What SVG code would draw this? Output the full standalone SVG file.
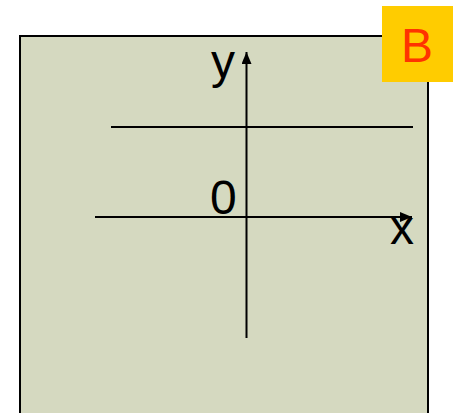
<svg xmlns="http://www.w3.org/2000/svg" width="454" height="413" viewBox="0 0 454 413">
<style>
.ax{stroke:#000;stroke-width:2;fill:none}
.lbl{font-family:"Liberation Sans",Arial,sans-serif;font-size:48px;fill:#000}
</style>
<defs>
<marker id="ah" viewBox="0 0 12 10" refX="12" refY="5" markerWidth="12" markerHeight="10" markerUnits="userSpaceOnUse" orient="auto">
<path d="M0,0 L12,5 L0,10 z" fill="#000"/>
</marker>
</defs>
<rect width="454" height="413" fill="#fff"/>
<g id="panel">
<rect x="20" y="36" width="408" height="400" fill="#d5d9c0" stroke="#000" stroke-width="2"/>
</g>
<g id="connectors">
<line class="ax" x1="111" y1="127" x2="413" y2="127"/>
<line class="ax" x1="95" y1="217" x2="412" y2="217" marker-end="url(#ah)"/>
<line class="ax" x1="246.5" y1="338" x2="246.5" y2="52" marker-end="url(#ah)"/>
</g>
<g id="labels">
<text class="lbl" x="211" y="78">y</text>
<text class="lbl" x="210" y="214">0</text>
<text class="lbl" x="390" y="244">x</text>
</g>
<g id="badge">
<rect x="382" y="6" width="71" height="76" fill="#ffcc00"/>
<text x="417" y="62" text-anchor="middle" font-family="Liberation Sans, Arial, sans-serif" font-size="48" fill="#ff3300">B</text>
</g>
</svg>
